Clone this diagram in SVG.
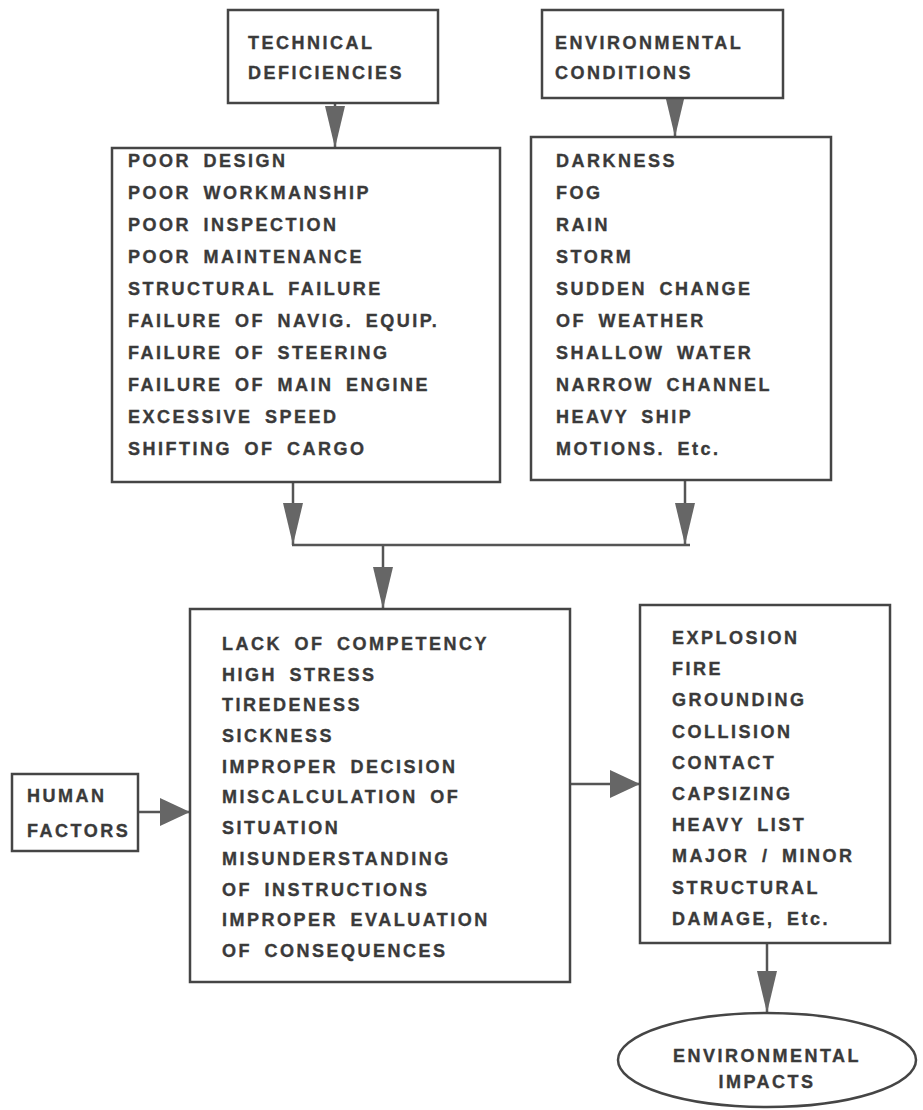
<svg xmlns="http://www.w3.org/2000/svg" width="923" height="1110" viewBox="0 0 923 1110">
<style>
.bg{fill:#ffffff}
.box{fill:#ffffff;stroke:#454545;stroke-width:2.5}
.t{font-family:"Liberation Sans",Arial,Helvetica,sans-serif;font-weight:bold;font-size:18px;letter-spacing:2.5px;word-spacing:5px;fill:#3a3a3a;stroke:#3a3a3a;stroke-width:0.35}
.line{fill:none;stroke:#555555;stroke-width:2.5}
</style>
<defs>
<marker id="av" markerUnits="userSpaceOnUse" markerWidth="42" markerHeight="20" refX="42" refY="10" orient="auto" viewBox="0 0 42 20">
<path d="M0,0 L42,10 L0,20 Z" fill="#666666"/>
</marker>
<marker id="ah" markerUnits="userSpaceOnUse" markerWidth="30" markerHeight="28" refX="30" refY="14" orient="auto" viewBox="0 0 30 28">
<path d="M0,0 L30,14 L0,28 Z" fill="#666666"/>
</marker>
</defs>
<rect class="bg" x="0" y="0" width="923" height="1110"/>

<g id="connectors">
<line class="line" x1="335" y1="103" x2="335" y2="148" marker-end="url(#av)"/>
<line class="line" x1="675" y1="98" x2="675" y2="137" marker-end="url(#av)"/>
<line class="line" x1="293" y1="482" x2="293" y2="545" marker-end="url(#av)"/>
<line class="line" x1="685" y1="480" x2="685" y2="545" marker-end="url(#av)"/>
<line class="line" x1="292" y1="545" x2="690" y2="545"/>
<line class="line" x1="383" y1="545" x2="383" y2="609" marker-end="url(#av)"/>
<line class="line" x1="138" y1="812" x2="190" y2="812" marker-end="url(#ah)"/>
<line class="line" x1="570" y1="784" x2="640" y2="784" marker-end="url(#ah)"/>
<line class="line" x1="767" y1="943" x2="767" y2="1013" marker-end="url(#av)"/>
</g>

<g id="technical">
<rect class="box" x="228" y="10" width="210" height="93"/>
<text class="t" x="248" y="49">TECHNICAL</text>
<text class="t" x="248" y="79">DEFICIENCIES</text>
</g>

<g id="environmental">
<rect class="box" x="542" y="10" width="241" height="88"/>
<text class="t" x="555" y="49">ENVIRONMENTAL</text>
<text class="t" x="555" y="79">CONDITIONS</text>
</g>

<g id="technical-list">
<rect class="box" x="112" y="148" width="388" height="334"/>
<text class="t" x="128" y="167">POOR DESIGN</text>
<text class="t" x="128" y="199">POOR WORKMANSHIP</text>
<text class="t" x="128" y="231">POOR INSPECTION</text>
<text class="t" x="128" y="263">POOR MAINTENANCE</text>
<text class="t" x="128" y="295">STRUCTURAL FAILURE</text>
<text class="t" x="128" y="327">FAILURE OF NAVIG. EQUIP.</text>
<text class="t" x="128" y="359">FAILURE OF STEERING</text>
<text class="t" x="128" y="391">FAILURE OF MAIN ENGINE</text>
<text class="t" x="128" y="423">EXCESSIVE SPEED</text>
<text class="t" x="128" y="455">SHIFTING OF CARGO</text>
</g>

<g id="environmental-list">
<rect class="box" x="531" y="137" width="300" height="343"/>
<text class="t" x="556" y="167">DARKNESS</text>
<text class="t" x="556" y="199">FOG</text>
<text class="t" x="556" y="231">RAIN</text>
<text class="t" x="556" y="263">STORM</text>
<text class="t" x="556" y="295">SUDDEN CHANGE</text>
<text class="t" x="556" y="327">OF WEATHER</text>
<text class="t" x="556" y="359">SHALLOW WATER</text>
<text class="t" x="556" y="391">NARROW CHANNEL</text>
<text class="t" x="556" y="423">HEAVY SHIP</text>
<text class="t" x="556" y="455">MOTIONS. Etc.</text>
</g>

<g id="human-factors">
<rect class="box" x="12" y="774" width="126" height="77"/>
<text class="t" x="27" y="802">HUMAN</text>
<text class="t" x="27" y="837">FACTORS</text>
</g>

<g id="human-list">
<rect class="box" x="190" y="609" width="380" height="373"/>
<text class="t" x="222" y="650">LACK OF COMPETENCY</text>
<text class="t" x="222" y="681">HIGH STRESS</text>
<text class="t" x="222" y="711">TIREDENESS</text>
<text class="t" x="222" y="742">SICKNESS</text>
<text class="t" x="222" y="773">IMPROPER DECISION</text>
<text class="t" x="222" y="803">MISCALCULATION OF</text>
<text class="t" x="222" y="834">SITUATION</text>
<text class="t" x="222" y="865">MISUNDERSTANDING</text>
<text class="t" x="222" y="896">OF INSTRUCTIONS</text>
<text class="t" x="222" y="926">IMPROPER EVALUATION</text>
<text class="t" x="222" y="957">OF CONSEQUENCES</text>
</g>

<g id="accidents">
<rect class="box" x="640" y="605" width="250" height="338"/>
<text class="t" x="672" y="644">EXPLOSION</text>
<text class="t" x="672" y="675">FIRE</text>
<text class="t" x="672" y="706">GROUNDING</text>
<text class="t" x="672" y="738">COLLISION</text>
<text class="t" x="672" y="769">CONTACT</text>
<text class="t" x="672" y="800">CAPSIZING</text>
<text class="t" x="672" y="831">HEAVY LIST</text>
<text class="t" x="672" y="862">MAJOR / MINOR</text>
<text class="t" x="672" y="894">STRUCTURAL</text>
<text class="t" x="672" y="925">DAMAGE, Etc.</text>
</g>

<g id="environmental-impacts">
<ellipse class="box" cx="767" cy="1060" rx="149" ry="47"/>
<text class="t" x="767" y="1062" text-anchor="middle">ENVIRONMENTAL</text>
<text class="t" x="767" y="1088" text-anchor="middle">IMPACTS</text>
</g>
</svg>
